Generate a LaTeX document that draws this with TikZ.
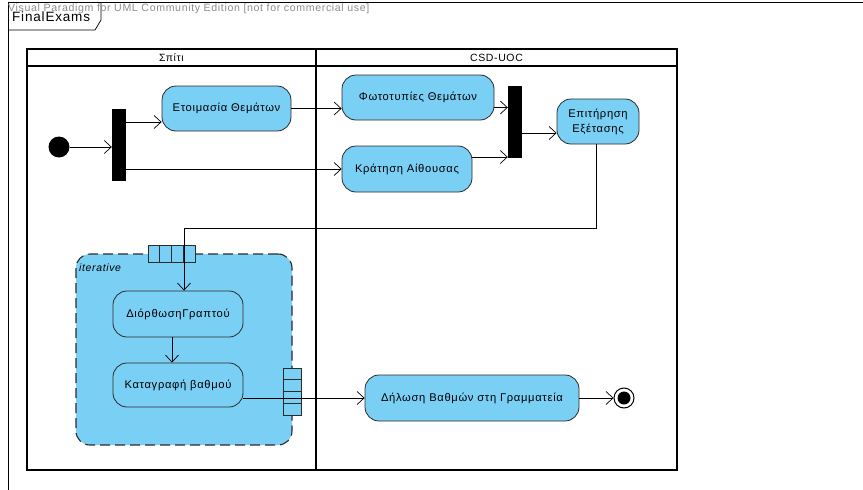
\documentclass[tikz,border=0pt]{standalone}
\usepackage{fontspec}
\setmainfont{Liberation Sans}[LetterSpace=6]
\usetikzlibrary{arrows.meta,positioning,calc}
\definecolor{actfill}{HTML}{7ACFF5}
\definecolor{actline}{HTML}{2B2B2B}
\definecolor{wmgrey}{HTML}{8C8C8C}

\begin{document}
\begin{tikzpicture}[x=1pt, y=-1pt,
    action/.style={draw=actline, fill=actfill, rounded corners=14pt,
                   minimum height=45pt, inner sep=2pt, align=center,
                   font=\fontsize{11.2}{15}\selectfont, line width=0.8pt},
    bar/.style={fill=black, inner sep=0pt, minimum width=14pt, minimum height=72pt},
    flow/.style={draw=black, line width=0.7pt, -{Straight Barb[length=7pt,width=13pt]}},
    lane/.style={draw=black, line width=1.8pt},
    pin/.style={draw=actline, fill=actfill, line width=0.7pt, inner sep=0pt},
    region/.style={draw=actline, fill=actfill, rounded corners=14pt, dashed,
                   dash pattern=on 10pt off 5pt, line width=1.1pt, inner sep=0pt},
]
\useasboundingbox (0,0) rectangle (863,490);

% Rahmen + Diagrammname
\draw[line width=1pt] (8,490) -- (8,2) -- (863,2);
\draw[line width=0.7pt] (8,30) -- (95,30) -- (101,20) -- (101,2);
\node[font=\fontsize{13.5}{15}\selectfont, anchor=west, inner sep=0pt] (title) at (12,17) {FinalExams};
\node[font=\fontsize{10.6}{12}\selectfont, text=wmgrey, anchor=west, inner sep=0pt] (mark) at (8,9)
    {Visual Paradigm for UML Community Edition [not for commercial use]};

% Swimlanes
\draw[lane] (27,49) rectangle (677,470);
\draw[lane] (27,66) -- (677,66);
\draw[lane] (316,49) -- (316,470);
\node[font=\fontsize{10.5}{12}\selectfont] (home) at (171.5,57.5) {Σπίτι};
\node[font=\fontsize{10.5}{12}\selectfont] (csd) at (496.5,57.5) {CSD-UOC};

% Knoten oben
\node[circle, fill=black, minimum size=21pt, inner sep=0pt] (start) at (59,147) {};
\node[bar] (fork) at (119,145) {};
\node[action, minimum width=129pt] (prep) at (226.5,108.5) {Ετοιμασία Θεμάτων};
\node[action, minimum width=152pt] (copies) at (418,97.5) {Φωτοτυπίες Θεμάτων};
\node[action, minimum width=130pt, minimum height=46pt] (room) at (407,169) {Κράτηση Αίθουσας};
\node[bar] (join) at (515,121.5) {};
\node[action, minimum width=82pt] (watch) at (598,121.5) {Επιτήρηση\\Εξέτασης};

% Expansion region
\node[region, minimum width=216pt, minimum height=191pt] (loop) at (184,349.5) {};
\node[font=\fontsize{10.5}{12}\selectfont\itshape, anchor=west, inner sep=0pt] (iter) at (79,268) {iterative};
\node[action, minimum width=130pt, minimum height=46pt] (check) at (178,314) {ΔιόρθωσηΓραπτού};
\node[action, minimum width=130pt, minimum height=44pt] (record) at (178,385) {Καταγραφή βαθμού};

% Pins
\node[pin, minimum width=47pt, minimum height=17pt] (inpin) at (171.5,253.5) {};
\foreach \i in {1,2,3}
    \draw[actline, line width=0.7pt] ($(inpin.north west)+(\i*11.75,0)$) -- ++(0,17);
\node[pin, minimum width=18pt, minimum height=47pt] (outpin) at (292,391.5) {};
\foreach \i in {1,2,3}
    \draw[actline, line width=0.7pt] ($(outpin.north west)+(0,\i*11.75)$) -- ++(18,0);

% Knoten unten
\node[action, minimum width=214pt, minimum height=46pt] (report) at (472,398) {Δήλωση Βαθμών στη Γραμματεία};
\node[circle, draw, line width=1pt, minimum size=20pt, inner sep=0pt] (end) at (624,398) {};
\node[circle, fill=black, minimum size=13pt, inner sep=0pt] (endin) at (end) {};

% Flüsse
\draw[flow] (start.east) -- (start.east -| fork.west);
\draw[flow] ([yshift=-13.5pt]prep.west -| fork.east) -- ([yshift=-13.5pt]prep.west);
\draw[flow] (room.west -| fork.east) -- (room.west);
\draw[flow] (prep.east) -- (prep.east -| copies.west);
\draw[flow] ([yshift=-10pt]copies.east) -- ([yshift=-10pt]copies.east -| join.west);
\draw[flow] ([yshift=12pt]room.east) -- ([yshift=12pt]room.east -| join.west);
\draw[flow] ([yshift=-11.5pt]watch.west -| join.east) -- ([yshift=-11.5pt]watch.west);
\coordinate (turn) at (596,228);
\draw[flow] (watch.south -| turn) -- (turn) -| ([xshift=6pt]check.north);
\draw[flow] ([xshift=-6pt]check.south) -- ([xshift=-6pt]record.north);
\draw[flow] (record.east |- report.west) -- (report.west);
\draw[flow] (report.east) -- (end.west);

\end{tikzpicture}
\end{document}
